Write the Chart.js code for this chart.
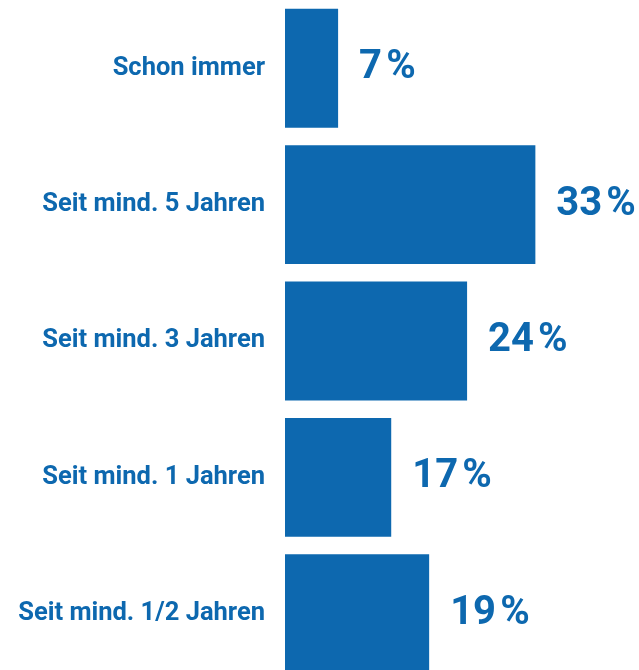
<html><head>
<script src="https://cdn.jsdelivr.net/npm/chart.js@4.4.1/dist/chart.umd.min.js"></script>
<style>
  body { margin: 0; overflow: hidden; background: #fff; }
  #wrap { width: 639px; height: 682px; }
</style>
</head>
<body>
<div id="wrap"><canvas id="bar-chart"></canvas></div>
<script>
  // categories, top to bottom
  var categories = ["Schon immer", "Seit mind. 5 Jahren", "Seit mind. 3 Jahren", "Seit mind. 1 Jahren", "Seit mind. 1/2 Jahren"];
  // bar lengths as drawn in the picture (percent)
  var barValues = [7, 33, 24, 14, 19];
  // value labels as printed next to the bars
  var valueLabels = ["7", "33", "24", "17", "19"];

  var blue = "#0d68af";

  // writes the percent text right of every bar
  var valueLabelPlugin = {
    id: "valueLabels",
    afterDatasetsDraw: function(chart) {
      var ctx = chart.ctx;
      var meta = chart.getDatasetMeta(0);
      ctx.save();
      ctx.fillStyle = blue;
      ctx.font = "bold 40px Roboto";
      ctx.textAlign = "left";
      ctx.textBaseline = "middle";
      meta.data.forEach(function(bar, i) {
        ctx.fillText(valueLabels[i] + "\u200A%", bar.x + 21, bar.y);
      });
      ctx.restore();
    }
  };

  new Chart(document.getElementById("bar-chart"), {
    type: "bar",
    data: {
      labels: categories,
      datasets: [{
        data: barValues,
        backgroundColor: blue,
        borderWidth: 0,
        barPercentage: 0.872,
        categoryPercentage: 1
      }]
    },
    options: {
      indexAxis: "y",
      responsive: true,
      maintainAspectRatio: false,
      animation: false,
      layout: { padding: { top: 0, bottom: 0, left: 0, right: 5 } },
      plugins: {
        legend: { display: false },
        tooltip: { enabled: false }
      },
      scales: {
        x: {
          min: 0,
          max: 46,
          display: false
        },
        y: {
          grid: { display: false, drawTicks: false },
          border: { display: false },
          ticks: {
            color: blue,
            padding: 20,
            font: { family: "Roboto", size: 25.5, weight: "bold" }
          },
          afterFit: function(axis) {
            axis.width = 285;
            axis.paddingTop = 0;
            axis.paddingBottom = 0;
          }
        }
      }
    },
    plugins: [valueLabelPlugin]
  });
</script>
</body>
</html>
